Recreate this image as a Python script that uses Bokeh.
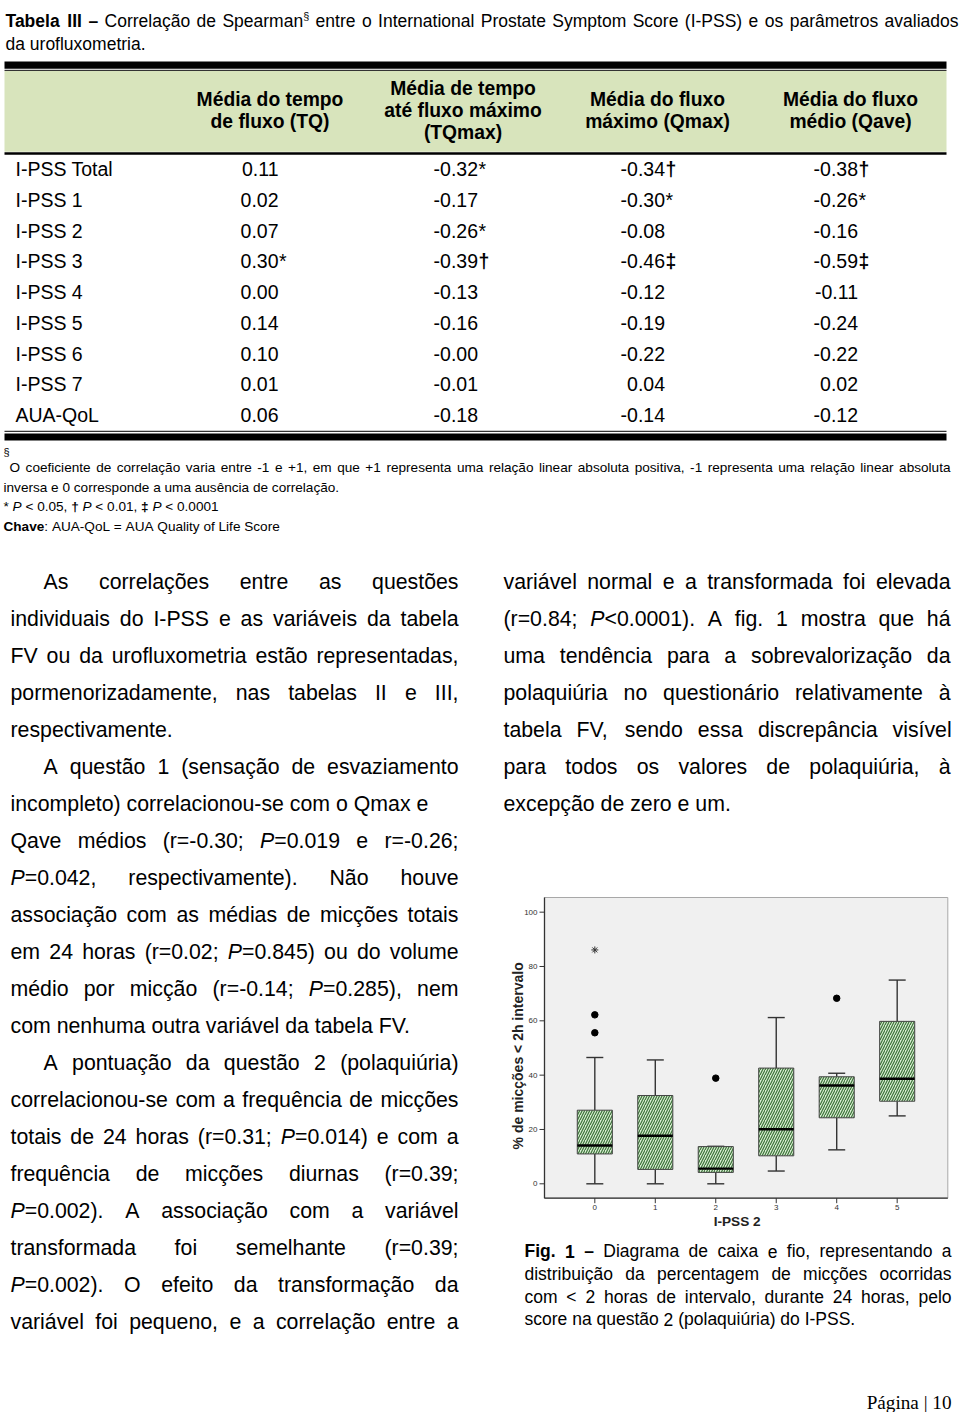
import re
import math
import unicodedata
from bokeh.plotting import figure
from bokeh.models import Range1d
from bokeh.core.properties import value
from bokeh.embed import file_html
from bokeh.resources import INLINE

# ---------------- data ----------------
row_labels = ["I-PSS Total", "I-PSS 1", "I-PSS 2", "I-PSS 3", "I-PSS 4",
              "I-PSS 5", "I-PSS 6", "I-PSS 7", "AUA-QoL"]
col_headers = [["Média do tempo", "de fluxo (TQ)"],
               ["Média de tempo", "até fluxo máximo", "(TQmax)"],
               ["Média do fluxo", "máximo (Qmax)"],
               ["Média do fluxo", "médio (Qave)"]]
tq = [0.11, 0.02, 0.07, 0.30, 0.00, 0.14, 0.10, 0.01, 0.06]
tq_sig = ["", "", "", "*", "", "", "", "", ""]
tqmax = [-0.32, -0.17, -0.26, -0.39, -0.13, -0.16, -0.00, -0.01, -0.18]
tqmax_sig = ["*", "", "*", "†", "", "", "", "", ""]
qmax = [-0.34, -0.30, -0.08, -0.46, -0.12, -0.19, -0.22, 0.04, -0.14]
qmax_sig = ["†", "*", "", "‡", "", "", "", "", ""]
qave = [-0.38, -0.26, -0.16, -0.59, -0.11, -0.24, -0.22, 0.02, -0.12]
qave_sig = ["†", "*", "", "‡", "", "", "", "", ""]

groups = [0, 1, 2, 3, 4, 5]
whisk_lo = [0.0, 0.0, 0.0, 4.7, 12.5, 25.0]
q1 = [11.0, 5.3, 4.2, 10.3, 24.3, 30.4]
median = [14.1, 17.7, 5.6, 20.1, 36.2, 38.7]
q3 = [27.1, 32.5, 13.7, 42.6, 39.4, 59.8]
whisk_hi = [46.5, 45.6, 13.8, 61.2, 40.7, 75.0]
outlier_x = [0, 0, 2, 4]
outlier_y = [55.6, 62.2, 38.9, 68.3]
extreme_x = [0]
extreme_y = [86.1]
x_ticks = [0, 1, 2, 3, 4, 5]
y_ticks = [0, 20, 40, 60, 80, 100]

TITLE = ["<b>Tabela III –</b> Correlação de Spearman<sup>§</sup> entre o International Prostate Symptom Score (I-PSS) e os parâmetros avaliados",
         "da urofluxometria."]
FOOT = ["O coeficiente de correlação varia entre -1 e +1, em que +1 representa uma relação linear absoluta positiva, -1 representa uma relação linear absoluta",
        "inversa e 0 corresponde a uma ausência de correlação.",
        "* <i>P</i> < 0.05, <b>†</b> <i>P</i> < 0.01, <b>‡</b> <i>P</i> < 0.0001",
        "<b>Chave</b>: AUA-QoL = AUA Quality of Life Score"]
LEFT_COL = ["As correlações entre as questões",
            "individuais do I-PSS e as variáveis da tabela",
            "FV ou da urofluxometria estão representadas,",
            "pormenorizadamente, nas tabelas II e III,",
            "respectivamente.",
            "A questão 1 (sensação de esvaziamento",
            "incompleto) correlacionou-se com o Qmax e",
            "Qave médios (r=-0.30; <i>P</i>=0.019 e r=-0.26;",
            "<i>P</i>=0.042, respectivamente). Não houve",
            "associação com as médias de micções totais",
            "em 24 horas (r=0.02; <i>P</i>=0.845) ou do volume",
            "médio por micção (r=-0.14; <i>P</i>=0.285), nem",
            "com nenhuma outra variável da tabela FV.",
            "A pontuação da questão 2 (polaquiúria)",
            "correlacionou-se com a frequência de micções",
            "totais de 24 horas (r=0.31; <i>P</i>=0.014) e com a",
            "frequência de micções diurnas (r=0.39;",
            "<i>P</i>=0.002). A associação com a variável",
            "transformada foi semelhante (r=0.39;",
            "<i>P</i>=0.002). O efeito da transformação da",
            "variável foi pequeno, e a correlação entre a"]
RIGHT_COL = ["variável normal e a transformada foi elevada",
             "(r=0.84; <i>P</i><0.0001). A fig. 1 mostra que há",
             "uma tendência para a sobrevalorização da",
             "polaquiúria no questionário relativamente à",
             "tabela FV, sendo essa discrepância visível",
             "para todos os valores de polaquiúria, à",
             "excepção de zero e um."]
CAPTION = ["<b>Fig. 1 –</b> Diagrama de caixa e fio, representando a",
           "distribuição da percentagem de micções ocorridas",
           "com < 2 horas de intervalo, durante 24 horas, pelo",
           "score na questão 2 (polaquiúria) do I-PSS."]
PAGE_NO = "Página | 10"
X_LABEL = "I-PSS 2"
Y_LABEL = "% de micções < 2h intervalo"

# ---------------- font metrics (Arial / Liberation Sans) ----------------
REG = {' ': 278, '!': 278, '%': 889, '(': 333, ')': 333, '*': 389, '+': 584, ',': 278,
       '-': 333, '.': 278, '/': 278, ':': 278, ';': 278, '<': 584, '=': 584, '>': 584,
       '?': 556, '|': 260, '–': 556, '§': 556, '†': 556, '‡': 556}
for d in "0123456789":
    REG[d] = 556
REG.update(zip("ABCDEFGHIJKLMNOPQRSTUVWXYZ",
               [667, 667, 722, 722, 667, 611, 778, 722, 278, 500, 667, 556, 833,
                722, 778, 667, 778, 722, 667, 611, 722, 667, 944, 667, 667, 611]))
REG.update(zip("abcdefghijklmnopqrstuvwxyz",
               [556, 556, 500, 556, 556, 278, 556, 556, 222, 222, 500, 222, 833,
                556, 556, 556, 556, 333, 500, 278, 556, 500, 722, 500, 500, 500]))
BOLD = dict(REG)
BOLD.update({':': 333, ';': 333, '!': 333})
BOLD.update(zip("ABCDEFGHIJKLMNOPQRSTUVWXYZ",
                [722, 722, 722, 722, 667, 611, 778, 722, 278, 556, 722, 611, 833,
                 722, 778, 667, 778, 722, 667, 611, 722, 667, 944, 667, 667, 611]))
BOLD.update(zip("abcdefghijklmnopqrstuvwxyz",
                [556, 611, 556, 611, 556, 333, 611, 611, 278, 278, 556, 278, 889,
                 611, 611, 611, 611, 389, 556, 333, 611, 556, 778, 556, 556, 500]))

SUP = 0.62
BASE_SHIFT = 0.37   # renderer places the glyph centre at the given y; shift from baseline


def char_w(ch, table):
    if ch in table:
        return table[ch]
    base = unicodedata.normalize("NFD", ch)[0]
    return table.get(base, 556)


def seg_w(text, style, size):
    table = BOLD if style == "b" else REG
    s = size * SUP if style == "sup" else size
    return sum(char_w(c, table) for c in text) * s / 1000.0


def parse(line):
    tokens = re.split(r"(</?(?:b|i|sup)>)", line)
    state = "n"
    runs = []
    for t in tokens:
        m = re.fullmatch(r"<(/?)(b|i|sup)>", t)
        if m:
            state = "n" if m.group(1) else m.group(2)
        elif t:
            runs.append((t, state))
    words, cur = [], []
    for text, st in runs:
        parts = text.split(" ")
        for k, part in enumerate(parts):
            if k > 0 and cur:
                words.append(cur)
                cur = []
            if part:
                cur.append((part, st))
    if cur:
        words.append(cur)
    return words


buckets = {}


def emit(x, y, text, style, size, font="Liberation Sans", align="left"):
    if style == "sup":
        sz = round(size * SUP, 2)
        y = y - size * 0.42
        fs = "normal"
    else:
        sz = size
        fs = {"n": "normal", "b": "bold", "i": "italic"}[style]
    y = y - BASE_SHIFT * sz
    key = (sz, fs, font, align)
    b = buckets.setdefault(key, {"x": [], "y": [], "text": []})
    b["x"].append(x)
    b["y"].append(y)
    b["text"].append(text)


def layout_line(line, x0, x1, baseline, size, justify):
    words = parse(line)
    widths = [sum(seg_w(t, s, size) for t, s in w) for w in words]
    if justify and len(words) > 1:
        gap = (x1 - x0 - sum(widths)) / (len(words) - 1)
    else:
        gap = REG[' '] * size / 1000.0
    x = x0
    for w, wd in zip(words, widths):
        xx = x
        for t, s in w:
            emit(xx, baseline, t, s, size)
            xx += seg_w(t, s, size)
        x += wd + gap


# ---------------- page figure (page pixel coordinates) ----------------
W, H = 960, 1412
p = figure(width=W, height=H, x_range=Range1d(0, W), y_range=Range1d(H, 0),
           title=None, output_backend="svg", toolbar_location=None,
           x_axis_location=None, y_axis_location=None,
           min_border=0, outline_line_color=None,
           background_fill_color="white", border_fill_color="white")
p.grid.visible = False

# title
layout_line(TITLE[0], 5, 958, 26.5, 17.5, True)
layout_line(TITLE[1], 5, 958, 50, 17.5, False)

# table rules and header band
TL, TR = 4, 946
p.quad(left=TL, right=TR, top=61, bottom=68.3, fill_color="black", line_color=None)
p.segment(x0=TL, x1=TR, y0=69.8, y1=69.8, line_color="black", line_width=1)
p.quad(left=TL, right=TR, top=70.5, bottom=151.2, fill_color="#d8e4bc", line_color=None)
p.quad(left=TL, right=TR, top=151.7, bottom=154.2, fill_color="black", line_color=None)
p.segment(x0=TL, x1=TR, y0=430.8, y1=430.8, line_color="black", line_width=1)
p.quad(left=TL, right=TR, top=433, bottom=440, fill_color="black", line_color=None)

HDR_X = [269.5, 462.5, 657, 850]
for cx, lines in zip(HDR_X, col_headers):
    base0 = 106 if len(lines) == 2 else 95
    for k, ln in enumerate(lines):
        emit(cx, base0 + 22 * k, ln, "b", 19.3, align="center")

ROW_Y0, ROW_DY = 176, 30.71
row_y = [ROW_Y0 + ROW_DY * i for i in range(len(row_labels))]
for lab, yy in zip(row_labels, row_y):
    emit(15, yy, lab, "n", 19.5)

COL_RIGHT = [278, 477.5, 664.5, 857.5]
for xr, vals, sigs in zip(COL_RIGHT, [tq, tqmax, qmax, qave],
                          [tq_sig, tqmax_sig, qmax_sig, qave_sig]):
    for v, s, yy in zip(vals, sigs, row_y):
        emit(xr, yy, f"{v:.2f}", "n", 19.5, align="right")
        if s:
            emit(xr + 0.5, yy, s, "n" if s == "*" else "b", 19.5)

# footnotes
emit(3, 456, "§", "n", 11)
layout_line(FOOT[0], 9, 950, 472, 13.6, True)
layout_line(FOOT[1], 3, 950, 492, 13.6, False)
layout_line(FOOT[2], 3, 950, 511.5, 13.6, False)
layout_line(FOOT[3], 3, 950, 531, 13.6, False)

# body text
BODY = 21.3
INDENT_L = {0, 5, 13}
RAGGED_L = {4, 6, 12}
for i, ln in enumerate(LEFT_COL):
    x0 = 43 if i in INDENT_L else 10
    layout_line(ln, x0, 458, 589 + 37 * i, BODY, i not in RAGGED_L)
for i, ln in enumerate(RIGHT_COL):
    layout_line(ln, 503, 950, 589 + 37 * i, BODY, i != len(RIGHT_COL) - 1)

# caption + page number
for i, ln in enumerate(CAPTION):
    layout_line(ln, 524, 951, 1257.3 + 22.7 * i, 17.5, i != len(CAPTION) - 1)
emit(951, 1409, PAGE_NO, "n", 19.2, font="Liberation Serif", align="right")

for (sz, fs, font, align), d in buckets.items():
    p.text(x=d["x"], y=d["y"], text=d["text"], text_font=value(font),
           text_font_size=f"{sz}px", text_font_style=fs,
           text_baseline="alphabetic", text_align=align, text_color="black")

# ---------------- box plot (sub-coordinate system mapped into the page) ----------------
XS0, XS1 = -0.832, 5.837          # data x range of the box plot
YS0, YS1 = -5.3, 105.4            # data y range of the box plot
FX0, FX1, FY0, FY1 = 544, 947.3, 1197.7, 897   # frame on the page
bx = p.subplot(x_source=Range1d(XS0, XS1), y_source=Range1d(YS0, YS1),
               x_target=Range1d(FX0, FX1), y_target=Range1d(FY0, FY1))
ux = (XS1 - XS0) / (FX1 - FX0)    # data units per pixel
uy = (YS1 - YS0) / (FY0 - FY1)

bx.quad(left=[XS0], right=[XS1], bottom=[YS0], top=[YS1], fill_color="#f0f0f0",
        line_color="#a8a8a8", line_width=1)
# axes
bx.segment(x0=[XS0], x1=[XS0], y0=[YS0], y1=[YS1], line_color="#333333", line_width=1.3)
bx.segment(x0=[XS0], x1=[XS1], y0=[YS0], y1=[YS0], line_color="#333333", line_width=1.3)
bx.segment(x0=[XS0 - 5 * ux] * len(y_ticks), x1=[XS0] * len(y_ticks), y0=y_ticks, y1=y_ticks,
           line_color="#333333", line_width=1)
bx.segment(x0=x_ticks, x1=x_ticks, y0=[YS0] * len(x_ticks), y1=[YS0 - 5 * uy] * len(x_ticks),
           line_color="#333333", line_width=1)
bx.text(x=[XS0 - 7 * ux] * len(y_ticks), y=y_ticks, text=[str(t) for t in y_ticks],
        text_font=value("Liberation Sans"), text_font_size="8px", text_color="#333333",
        text_align="right", text_baseline="middle")
bx.text(x=x_ticks, y=[YS0 - 7 * uy] * len(x_ticks), text=[str(t) for t in x_ticks],
        text_font=value("Liberation Sans"), text_font_size="8px", text_color="#333333",
        text_align="center", text_baseline="top")
bx.text(x=[XS0 - 27 * ux], y=[(YS0 + YS1) / 2 - 8 * uy], text=[Y_LABEL],
        text_font=value("Liberation Sans"), text_font_size="14px", text_font_style="bold",
        text_color="#222222", text_align="center", text_baseline="middle", angle=math.pi / 2)
bx.text(x=[(XS0 + XS1) / 2 - 9 * ux], y=[YS0 - 23 * uy], text=[X_LABEL],
        text_font=value("Liberation Sans"), text_font_size="13.6px", text_font_style="bold",
        text_color="#222222", text_align="center", text_baseline="middle")

# boxes and whiskers
bx.segment(x0=groups, x1=groups, y0=q3, y1=whisk_hi, line_color="#333333", line_width=1.4)
bx.segment(x0=groups, x1=groups, y0=whisk_lo, y1=q1, line_color="#333333", line_width=1.4)
bx.scatter(x=groups, y=whisk_hi, marker="dash", size=17, line_color="#333333", line_width=1.4)
bx.scatter(x=groups, y=whisk_lo, marker="dash", size=17, line_color="#333333", line_width=1.4)
bx.vbar(x=groups, width=0.58, bottom=q1, top=q3, fill_color="#d8eed2",
        hatch_pattern="/", hatch_color="#3c7339", hatch_scale=5, hatch_weight=1.2,
        line_color="#444444", line_width=1)
bx.scatter(x=groups, y=median, marker="dash", size=35, line_color="black", line_width=2.4)
bx.scatter(x=outlier_x, y=outlier_y, marker="circle", size=6.5, fill_color="black",
           line_color="black")
bx.scatter(x=extreme_x, y=extreme_y, marker="asterisk", size=7, line_color="#333333",
           line_width=1)

open("out.html", "w").write(file_html(p, INLINE))
